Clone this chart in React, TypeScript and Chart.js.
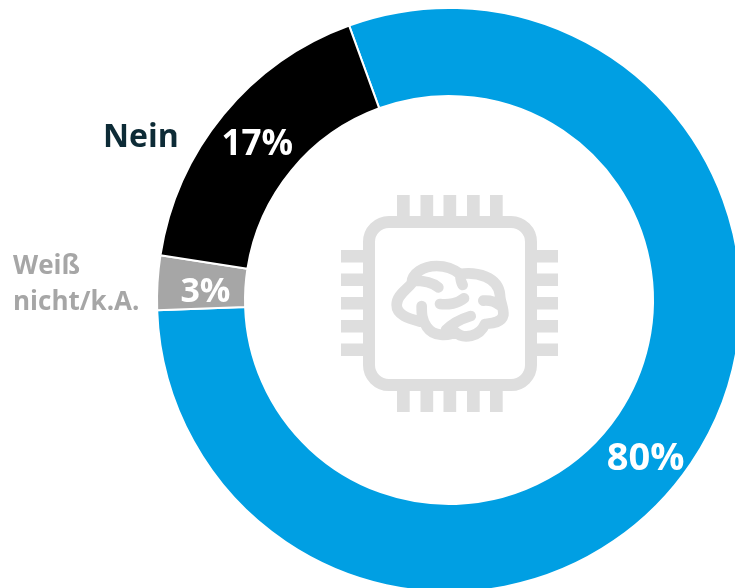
import React, { useEffect, useRef } from "react";
import { Chart, registerables } from "chart.js";

Chart.register(...registerables);

const categories = ["Ja", "Weiß nicht/k.A.", "Nein"];
const values = [80, 3, 17];
const colors = ["#009fe3", "#a6a6a6", "#000000"];
const valueLabels = ["80%", "3%", "17%"];

const FONT = '"Open Sans", "Noto Sans", sans-serif';
const ICON = "#dedede";

const valueOffsets = [
  [-9, 20],
  [4, 7],
  [0, 2],
];
const valueSizes = [38, 34, 35];

const iconPlugin = {
  id: "centerIcon",
  afterDatasetsDraw(chart: any) {
    const ctx = chart.ctx;
    const arc = chart.getDatasetMeta(0).data[0];
    const cx = arc.x;
    const cy = arc.y;
    ctx.save();
    ctx.translate(cx - 449, cy - 300);
    ctx.strokeStyle = ICON;
    ctx.fillStyle = ICON;
    ctx.lineWidth = 12;
    ctx.beginPath();
    ctx.roundRect(369, 222, 162, 163, 20);
    ctx.stroke();
    [397, 420.5, 443.5, 467, 490].forEach((x) => {
      ctx.fillRect(x, 195, 12.7, 22);
      ctx.fillRect(x, 390, 12.7, 22);
    });
    [250, 273.5, 297, 320, 343.5].forEach((y) => {
      ctx.fillRect(341, y, 23, 12.5);
      ctx.fillRect(536, y, 22, 12.5);
    });
    ctx.translate(320, 180);
    ctx.scale(1 / 3, 1 / 3);
    ctx.lineWidth = 32;
    ctx.lineCap = "round";
    ctx.lineJoin = "round";
    const brain = new Path2D(
      "M300 425 C265 415 230 405 230 375 C230 345 260 330 275 310 C275 280 310 258 350 258 C385 258 405 270 420 282 C470 275 535 290 540 345 C540 365 552 385 550 405 C545 430 510 430 495 432 C480 470 430 480 405 455 C385 470 340 470 320 440 C305 420 305 400 305 378 " +
        "M280 302 C310 302 340 310 355 322 " +
        "M422 285 C420 295 425 310 428 315 " +
        "M360 372 C385 375 415 370 432 355 " +
        "M490 362 C510 360 525 365 538 375 " +
        "M452 408 C420 418 395 432 378 450"
    );
    ctx.stroke(brain);
    ctx.restore();
  },
};

const labelPlugin = {
  id: "textLabels",
  afterDatasetsDraw(chart: any) {
    const ctx = chart.ctx;
    const meta = chart.getDatasetMeta(0);
    const cx = meta.data[0].x;
    const cy = meta.data[0].y;
    ctx.save();
    ctx.textBaseline = "middle";
    ctx.textAlign = "center";
    ctx.fillStyle = "#ffffff";
    meta.data.forEach((arc: any, i: number) => {
      const p = arc.getCenterPoint();
      ctx.font = `700 ${valueSizes[i]}px ${FONT}`;
      ctx.fillText(valueLabels[i], p.x + valueOffsets[i][0], p.y + valueOffsets[i][1]);
    });
    ctx.textAlign = "left";
    ctx.fillStyle = "#0d2b36";
    ctx.font = `700 32px ${FONT}`;
    ctx.fillText(categories[2], cx - 346, cy - 162);
    ctx.fillStyle = "#a6a6a6";
    ctx.font = `700 26px ${FONT}`;
    ctx.fillText("Weiß", cx - 436, cy - 33);
    ctx.fillText("nicht/k.A.", cx - 436, cy + 3);
    ctx.restore();
  },
};

export default function App() {
  const ref = useRef<HTMLCanvasElement>(null);
  useEffect(() => {
    const chart = new Chart(ref.current as HTMLCanvasElement, {
      type: "doughnut",
      data: {
        labels: categories,
        datasets: [
          {
            data: values,
            backgroundColor: colors,
            borderColor: "#ffffff",
            borderWidth: 2,
            hoverOffset: 0,
          },
        ],
      },
      options: {
        responsive: false,
        animation: false,
        rotation: -20,
        cutout: 204,
        layout: { padding: 156 },
        plugins: { legend: { display: false }, tooltip: { enabled: false } },
      },
      plugins: [iconPlugin, labelPlugin],
    } as any);
    return () => chart.destroy();
  }, []);
  return (
    <div
      style={{
        position: "fixed",
        left: 0,
        top: 0,
        width: 735,
        height: 588,
        overflow: "hidden",
        background: "#fff",
      }}
    >
      <canvas
        ref={ref}
        width={898}
        height={898}
        style={{ position: "absolute", left: 0, top: -149, width: 898, height: 898 }}
      />
    </div>
  );
}
